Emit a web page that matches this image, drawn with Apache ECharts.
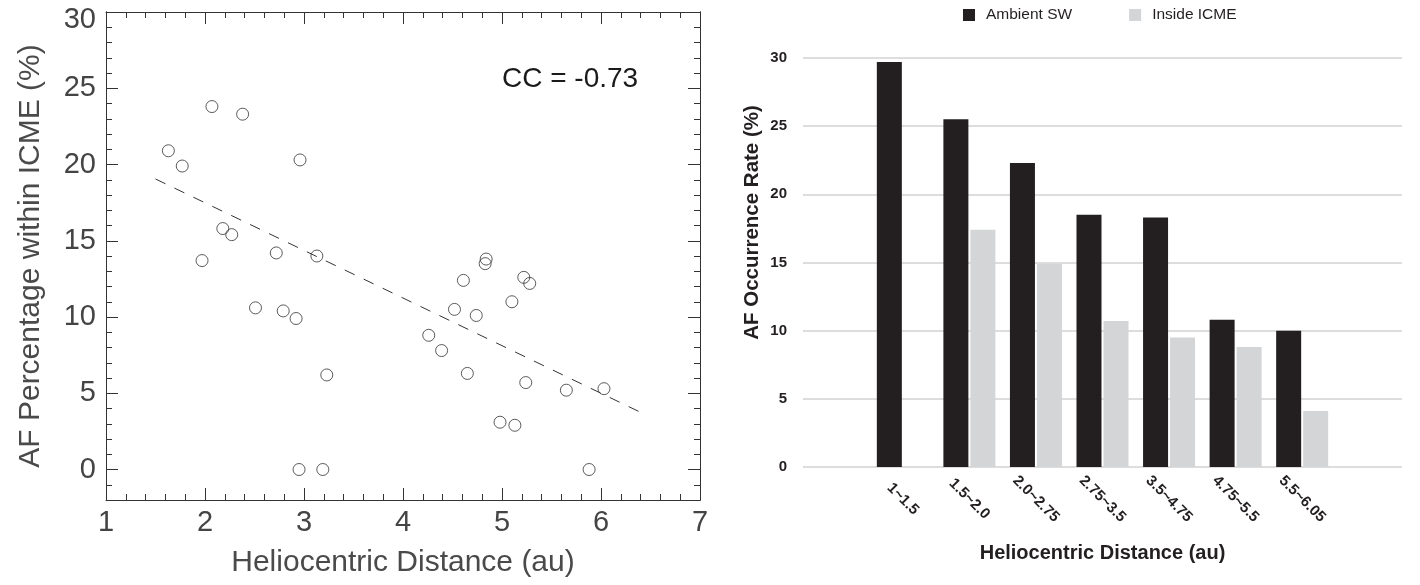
<!DOCTYPE html>
<html>
<head>
<meta charset="utf-8">
<script src="https://cdn.jsdelivr.net/npm/echarts@6/dist/echarts.min.js"></script>
<style>html,body{margin:0;padding:0;background:#fff}#c{width:1420px;height:585px}</style>
</head>
<body>
<div id="c"></div>
<script>
// ---- Left panel: scatter ----
const scatterDistance = [1.63,1.77,1.97,2.07,2.18,2.27,2.38,2.51,2.72,2.79,2.92,2.96,2.95,3.13,3.19,3.23,4.26,4.39,4.52,4.61,4.65,4.74,4.84,4.83,4.98,5.10,5.13,5.22,5.24,5.28,5.65,5.88,6.03];
const scatterAF = [20.9,19.9,13.7,23.8,15.8,15.4,23.3,10.6,14.2,10.4,9.9,20.3,0,14.0,0,6.2,8.8,7.8,10.5,12.4,6.3,10.1,13.8,13.5,3.1,11.0,2.9,12.6,5.7,12.2,5.2,0,5.3];
const trendX = [1.5, 6.4];
const trendY = [19.05, 3.75];
const leftYMajor = [0,5,10,15,20,25,30];
const ccText = 'CC = -0.73';

// ---- Right panel: bars ----
const distanceBins = ['1~1.5','1.5~2.0','2.0~2.75','2.75~3.5','3.5~4.75','4.75~5.5','5.5~6.05'];
const ambientSW = [29.7,25.5,22.3,18.5,18.3,10.8,10.0];
const insideICME = [0,17.4,14.9,10.7,9.5,8.8,4.1];

const FONT = 'Liberation Sans, Arial, Helvetica, sans-serif';
const GRAYTXT = '#444';
const FRAME = '#333';

const scatterData = scatterDistance.map((x,i)=>[x, scatterAF[i]]);
const trendData = trendX.map((x,i)=>[x, trendY[i]]);
const barCats = [''].concat(distanceBins, ['']);
const padData = a => [null].concat(a, [null]);

function xAx(pos, showLabel){
  return {
    type:'value', gridIndex:0, position:pos, min:1, max:7, interval:1,
    axisLine:{show:true, onZero:false, lineStyle:{color:FRAME, width:1}},
    axisTick:{show:true, inside:true, length:12, lineStyle:{color:FRAME}},
    minorTick:{show:true, splitNumber:5, length:6, lineStyle:{color:FRAME}},
    splitLine:{show:false}, minorSplitLine:{show:false},
    axisLabel:{show:showLabel, fontSize:29, color:GRAYTXT, fontFamily:FONT, margin:8},
    name: showLabel ? 'Heliocentric Distance (au)' : '',
    nameLocation:'middle', nameGap:48,
    nameTextStyle:{fontSize:30, color:'#4a4a4a', fontFamily:FONT}
  };
}
function yMinor(pos){
  return {
    type:'value', gridIndex:0, position:pos, min:-2, max:30, interval:1,
    axisLine:{show:true, onZero:false, lineStyle:{color:FRAME, width:1}},
    axisTick:{show:true, inside:true, length:6, lineStyle:{color:FRAME}},
    splitLine:{show:false}, axisLabel:{show:false}
  };
}
function yMajor(pos, showLabel){
  return {
    type:'value', gridIndex:0, position:pos, min:-2, max:30,
    axisLine:{show:true, onZero:false, lineStyle:{color:FRAME, width:1}},
    axisTick:{show:true, inside:true, length:12, customValues:leftYMajor, lineStyle:{color:FRAME}},
    splitLine:{show:false},
    axisLabel:{show:showLabel, customValues:leftYMajor, fontSize:29, color:GRAYTXT, fontFamily:FONT, margin:10,
      formatter: v => v === 30 ? '{t|30}' : String(v),
      rich:{t:{fontSize:29, color:GRAYTXT, fontFamily:FONT, padding:[16,0,0,0]}}},
    name: showLabel ? 'AF Percentage within ICME (%)' : '',
    nameLocation:'middle', nameGap:60,
    nameTextStyle:{fontSize:30, color:'#4a4a4a', fontFamily:FONT}
  };
}

const chart = echarts.init(document.getElementById('c'), null, {renderer:'canvas'});
chart.setOption({
  animation:false,
  backgroundColor:'#fff',
  grid:[
    {left:106, right:720, top:12, bottom:85},
    {left:803, right:18, top:58, bottom:118}
  ],
  legend:{
    data:['Ambient SW','Inside ICME'],
    left:958, top:2, icon:'rect', itemWidth:12, itemHeight:12, itemGap:57,
    textStyle:{fontSize:15.5, color:'#231f20', fontFamily:FONT, padding:[0,0,0,6]}
  },
  graphic:[{
    type:'text', left:502, top:65,
    style:{text:ccText, font:'28px ' + FONT, fill:'#1a1a1a'}
  }],
  xAxis:[
    xAx('bottom', true),
    xAx('top', false),
    {
      type:'category', gridIndex:1, data:barCats,
      axisLine:{show:false}, axisTick:{show:false}, splitLine:{show:false},
      axisLabel:{interval:0, rotate:-45, align:'center', verticalAlign:'middle', margin:32,
        fontSize:15, fontWeight:'bold', color:'#231f20', fontFamily:FONT},
      name:'Heliocentric Distance (au)', nameLocation:'middle', nameGap:76,
      nameTextStyle:{fontSize:20, fontWeight:'bold', color:'#231f20', fontFamily:FONT}
    }
  ],
  yAxis:[
    yMinor('left'),
    yMajor('left', true),
    yMinor('right'),
    yMajor('right', false),
    {
      type:'value', gridIndex:1, min:0, max:30, interval:5,
      axisLine:{show:false}, axisTick:{show:false},
      splitLine:{show:true, lineStyle:{color:'#d2d2d2', width:1.5}},
      axisLabel:{fontSize:15, fontWeight:'bold', color:'#231f20', fontFamily:FONT, margin:16},
      name:'AF Occurrence Rate (%)', nameLocation:'middle', nameGap:40,
      nameTextStyle:{fontSize:20.5, fontWeight:'bold', color:'#231f20', fontFamily:FONT, padding:[0,0,0,80]}
    }
  ],
  series:[
    {
      type:'line', xAxisIndex:0, yAxisIndex:1, data:trendData, symbol:'none',
      lineStyle:{color:'#333', width:1, type:[11,10]}, silent:true
    },
    {
      type:'scatter', xAxisIndex:0, yAxisIndex:1, data:scatterData,
      symbol:'circle', symbolSize:12,
      itemStyle:{color:'rgba(0,0,0,0)', borderColor:'#333', borderWidth:1}
    },
    {
      name:'Ambient SW', type:'bar', xAxisIndex:2, yAxisIndex:4, data:padData(ambientSW),
      barWidth:25, barGap:'8%', itemStyle:{color:'#231f20'}
    },
    {
      name:'Inside ICME', type:'bar', xAxisIndex:2, yAxisIndex:4, data:padData(insideICME),
      barWidth:25, barGap:'8%', itemStyle:{color:'#d4d5d7'}
    }
  ]
});
</script>
</body>
</html>
